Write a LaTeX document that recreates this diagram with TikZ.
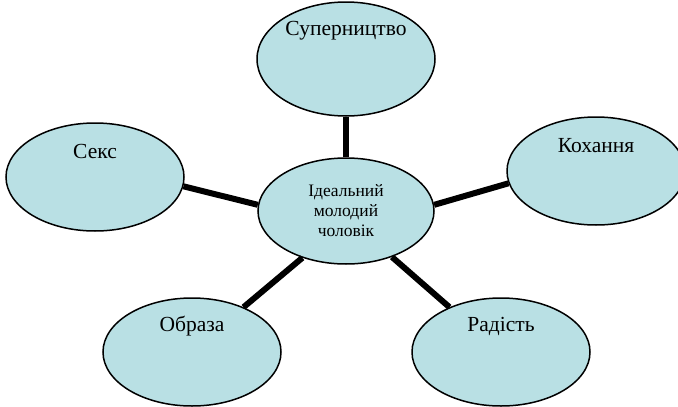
\documentclass[tikz,border=0pt]{standalone}
\usepackage{fontspec}
\setmainfont{Liberation Serif}
\usetikzlibrary{shapes.geometric}
\definecolor{bubblefill}{HTML}{B9E0E4}
\tikzset{bubble/.style={ellipse,draw,line width=1.5pt,fill=bubblefill,minimum width=178pt,minimum height=108pt,inner sep=0pt,
  label={[anchor=center,yshift=-29pt,font=\fontsize{21.5}{24}\selectfont]north:#1}}}
\tikzset{hub/.style={ellipse,draw,line width=1.5pt,fill=bubblefill,minimum width=176pt,minimum height=106pt,inner sep=0pt,
  align=center,font=\fontsize{17.5}{20}\selectfont}}

\begin{document}
\begin{tikzpicture}[x=1pt,y=-1pt]
        \useasboundingbox (0,0) rectangle (678,407);

        \node[bubble=Суперництво, minimum height=114pt] (sup) at (346,59) {};
        \node[bubble=Секс] (sex) at (95,177) {};
        \node[bubble=Кохання] (love) at (596,171) {};
        \node[bubble=Образа] (hurt) at (192,352) {};
        \node[bubble=Радість] (joy) at (501,352) {};
        \node[hub] (c) at (346,211) {Ідеальний\\молодий\\чоловік};

        \path[draw, line width=6pt]
        (c.90) edge (sup.270)
        (c.176) edge (sex.-6)
        (c.4) edge (love.188)
        (c.227) edge (hurt.41)
        (c.-45) edge (joy.139);
    \end{tikzpicture}
\end{document}
